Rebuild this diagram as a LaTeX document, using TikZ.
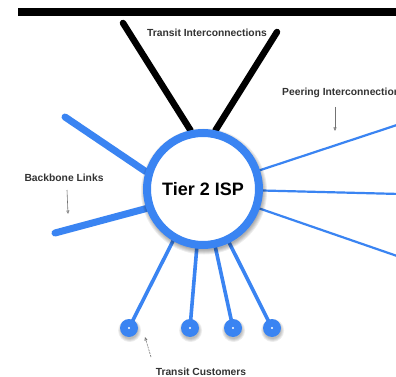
\documentclass[tikz,border=0pt]{standalone}
\usepackage{fontspec}
\setmainfont{Liberation Sans}
\usetikzlibrary{arrows.meta}
\definecolor{ispblue}{RGB}{58,132,242}
\pgfdeclarelayer{back}
\pgfdeclarelayer{bg}
\pgfdeclarelayer{shad}
\pgfsetlayers{back,bg,shad,main}
\begin{document}
\begin{tikzpicture}[x=1pt,y=-1pt,
  thickblue/.style={ispblue, line width=7pt, line cap=round},
  thinblue/.style={ispblue, line width=2.2pt},
  custline/.style={ispblue, line width=3.6pt, line cap=round},
  blackline/.style={black, line width=6.5pt, line cap=round},
  lbl/.style={font=\bfseries\fontsize{10.3}{12}\selectfont, text=black!80, inner sep=0},
  pointer/.style={black!55, line width=0.6pt, -{Triangle[open,length=3.5pt,width=3pt]}},
  shadowfill/.style={fill=black, fill opacity=0.07},
  custdot/.style={circle, fill=ispblue, minimum size=18pt, inner sep=0,
    path picture={\fill[white] (path picture bounding box.center) circle (1.2pt);}},
  ispnode/.style={circle, draw=ispblue, line width=8pt, fill=white, minimum size=112pt, inner sep=0,
    font=\bfseries\fontsize{18}{20}\selectfont}
]
\useasboundingbox (0,0) rectangle (396,377);
\begin{pgfonlayer}{back}
\fill[white] (0,0) rectangle (396,377);
\end{pgfonlayer}
% top bar
\fill[black] (18,8) rectangle (396,16.5);

% central node
\node[ispnode] (isp) at (203,189) {Tier 2 ISP};

% customers
\node[custdot] (c1) at (129,328) {};
\node[custdot] (c2) at (190,328) {};
\node[custdot] (c3) at (233,328) {};
\node[custdot] (c4) at (272,328) {};

% soft shadows
\begin{pgfonlayer}{shad}
  \foreach \r in {59,60,61,62,63}{
    \fill[shadowfill] ([shift={(1,2.5)}]isp.center) circle (\r);
  }
  \foreach \n in {c1,c2,c3,c4}{
    \foreach \r in {8.5,9.5,10.5,11.5}{
      \fill[shadowfill] ([shift={(0.6,2.5)}]\n.center) circle (\r);
    }
  }
\end{pgfonlayer}

% free ends
\coordinate (t1) at (123,23);
\coordinate (t2) at (277,32);
\coordinate (b1) at (65,117);
\coordinate (b2) at (55,233);
\coordinate (p1) at (400,124);
\coordinate (p2) at (400,194);
\coordinate (p3) at (400,257);

\begin{pgfonlayer}{bg}
  \draw[blackline] (t1) -- (isp.102);
  \draw[blackline] (t2) -- (isp.78);
  \draw[thickblue] (b1) -- (isp.163);
  \draw[thickblue] (b2) -- (isp.199);
  \draw[thinblue] (isp.center) -- (p1);
  \draw[thinblue] (isp.center) -- (p2);
  \draw[thinblue] (isp.center) -- (p3);
  \draw[custline] (c1.center) -- (isp.240);
  \draw[custline] (c2.center) -- (isp.264);
  \draw[custline] (c3.center) -- (isp.282);
  \draw[custline] (c4.center) -- (isp.296);
\end{pgfonlayer}

% labels
\node[lbl] (lt) at (207,33) {Transit Interconnections};
\node[lbl, anchor=west] (lp) at (282,93) {Peering Interconnections};
\node[lbl] (lb) at (64,178) {Backbone Links};
\node[lbl] (lc) at (201,372) {Transit Customers};

% pointers
\coordinate (pa1) at (335,107);
\coordinate (pa2) at (335,131);
\coordinate (ba1) at (67,190);
\coordinate (ba2) at (68,214);
\coordinate (ca1) at (151,357);
\coordinate (ca2) at (145,337);
\draw[pointer] (pa1) -- (pa2);
\draw[pointer] (ba1) -- (ba2);
\draw[pointer, dash pattern=on 2pt off 1pt] (ca1) -- (ca2);
\end{tikzpicture}
\end{document}
